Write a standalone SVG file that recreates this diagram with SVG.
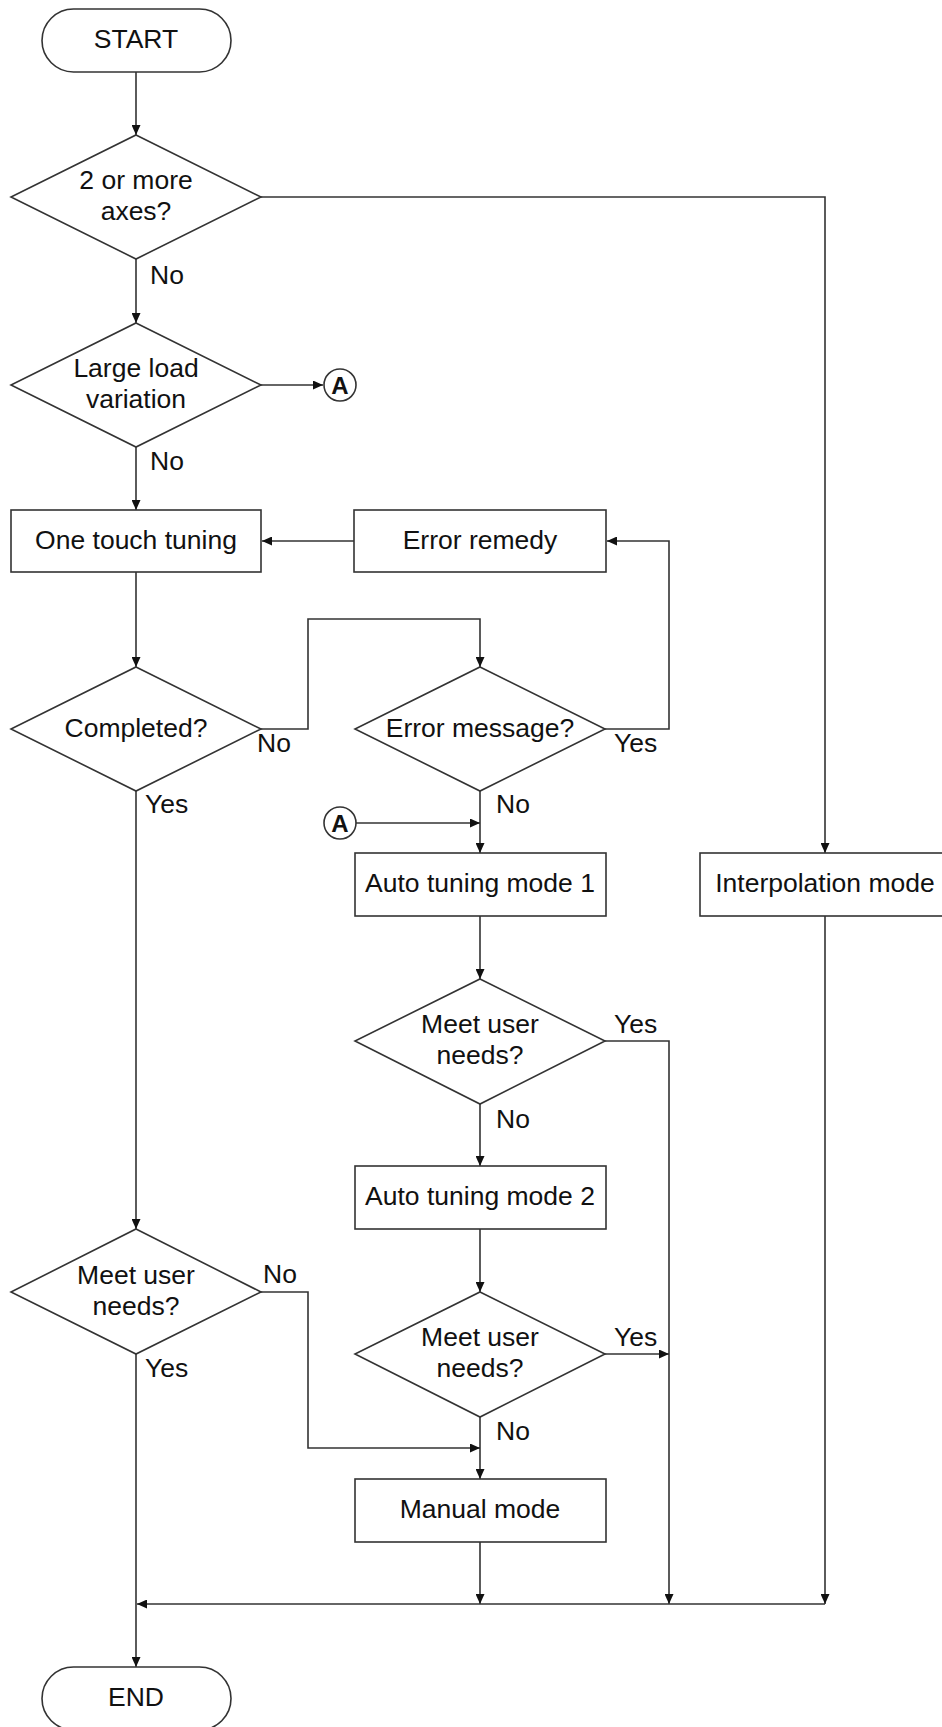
<svg xmlns="http://www.w3.org/2000/svg" width="942" height="1727" viewBox="0 0 942 1727">
<style>
.n{fill:#fff;stroke:#333;stroke-width:1.6}
.c{fill:none;stroke:#333;stroke-width:1.6}
text{font-family:"Liberation Sans",Arial,sans-serif;font-size:26.5px;fill:#111}
.m{text-anchor:middle}
.b{font-weight:bold;font-size:24px}
</style>
<defs>
<marker id="ar" markerUnits="userSpaceOnUse" markerWidth="11" markerHeight="9" refX="10" refY="4.5" orient="auto">
<path d="M0,0 L10,4.5 L0,9 z" fill="#111"/>
</marker>
</defs>
<rect width="942" height="1727" fill="#fff"/>
<g id="connectors">
<path class="c" d="M136,72 V135" marker-end="url(#ar)"/>
<path class="c" d="M261,197 H825 V853" marker-end="url(#ar)"/>
<path class="c" d="M136,259 V323" marker-end="url(#ar)"/>
<path class="c" d="M261,385 H323" marker-end="url(#ar)"/>
<path class="c" d="M136,447 V510" marker-end="url(#ar)"/>
<path class="c" d="M354,541 H262" marker-end="url(#ar)"/>
<path class="c" d="M136,572 V667" marker-end="url(#ar)"/>
<path class="c" d="M261,729 H308 V619 H480 V667" marker-end="url(#ar)"/>
<path class="c" d="M605,729 H669 V541 H607" marker-end="url(#ar)"/>
<path class="c" d="M480,791 V853" marker-end="url(#ar)"/>
<path class="c" d="M356,823 H480" marker-end="url(#ar)"/>
<path class="c" d="M136,791 V1229" marker-end="url(#ar)"/>
<path class="c" d="M825,916 V1604" marker-end="url(#ar)"/>
<path class="c" d="M480,916 V979" marker-end="url(#ar)"/>
<path class="c" d="M605,1041 H669 V1604" marker-end="url(#ar)"/>
<path class="c" d="M480,1104 V1166" marker-end="url(#ar)"/>
<path class="c" d="M480,1229 V1292" marker-end="url(#ar)"/>
<path class="c" d="M605,1354 H669" marker-end="url(#ar)"/>
<path class="c" d="M480,1417 V1479" marker-end="url(#ar)"/>
<path class="c" d="M261,1292 H308 V1448 H480" marker-end="url(#ar)"/>
<path class="c" d="M136,1354 V1667" marker-end="url(#ar)"/>
<path class="c" d="M480,1542 V1604" marker-end="url(#ar)"/>
<path class="c" d="M825,1604 H137" marker-end="url(#ar)"/>
<text x="150" y="284">No</text>
<text x="150" y="470">No</text>
<text x="257" y="752">No</text>
<text x="614" y="752">Yes</text>
<text x="145" y="813">Yes</text>
<text x="496" y="813">No</text>
<text x="614" y="1033">Yes</text>
<text x="496" y="1128">No</text>
<text x="614" y="1346">Yes</text>
<text x="496" y="1440">No</text>
<text x="263" y="1283">No</text>
<text x="145" y="1377">Yes</text>
</g>
<g id="start"><rect class="n" x="42" y="9" width="189" height="63" rx="31.5"/><text class="m" x="136" y="48">START</text></g>
<g id="d_axes"><polygon class="n" points="136,135 261,197 136,259 11,197"/><text class="m" x="136" y="189">2 or more</text><text class="m" x="136" y="220">axes?</text></g>
<g id="d_load"><polygon class="n" points="136,323 261,385 136,447 11,385"/><text class="m" x="136" y="377">Large load</text><text class="m" x="136" y="408">variation</text></g>
<g id="conn_a1"><circle class="n" cx="340" cy="385" r="16"/><text class="m b" x="340" y="394">A</text></g>
<g id="b_onetouch"><rect class="n" x="11" y="510" width="250" height="62"/><text class="m" x="136" y="549">One touch tuning</text></g>
<g id="b_remedy"><rect class="n" x="354" y="510" width="252" height="62"/><text class="m" x="480" y="549">Error remedy</text></g>
<g id="d_completed"><polygon class="n" points="136,667 261,729 136,791 11,729"/><text class="m" x="136" y="737">Completed?</text></g>
<g id="d_error"><polygon class="n" points="480,667 605,729 480,791 355,729"/><text class="m" x="480" y="737">Error message?</text></g>
<g id="conn_a2"><circle class="n" cx="340" cy="823" r="16"/><text class="m b" x="340" y="832">A</text></g>
<g id="b_auto1"><rect class="n" x="355" y="853" width="251" height="63"/><text class="m" x="480" y="892">Auto tuning mode 1</text></g>
<g id="b_interp"><rect class="n" x="700" y="853" width="251" height="63"/><text class="m" x="825" y="892">Interpolation mode</text></g>
<g id="d_meet1"><polygon class="n" points="480,979 605,1041 480,1104 355,1041"/><text class="m" x="480" y="1033">Meet user</text><text class="m" x="480" y="1064">needs?</text></g>
<g id="b_auto2"><rect class="n" x="355" y="1166" width="251" height="63"/><text class="m" x="480" y="1205">Auto tuning mode 2</text></g>
<g id="d_meet2"><polygon class="n" points="480,1292 605,1354 480,1417 355,1354"/><text class="m" x="480" y="1346">Meet user</text><text class="m" x="480" y="1377">needs?</text></g>
<g id="d_meet0"><polygon class="n" points="136,1229 261,1292 136,1354 11,1292"/><text class="m" x="136" y="1284">Meet user</text><text class="m" x="136" y="1315">needs?</text></g>
<g id="b_manual"><rect class="n" x="355" y="1479" width="251" height="63"/><text class="m" x="480" y="1518">Manual mode</text></g>
<g id="end"><rect class="n" x="42" y="1667" width="189" height="63" rx="31.5"/><text class="m" x="136" y="1706">END</text></g>
</svg>
